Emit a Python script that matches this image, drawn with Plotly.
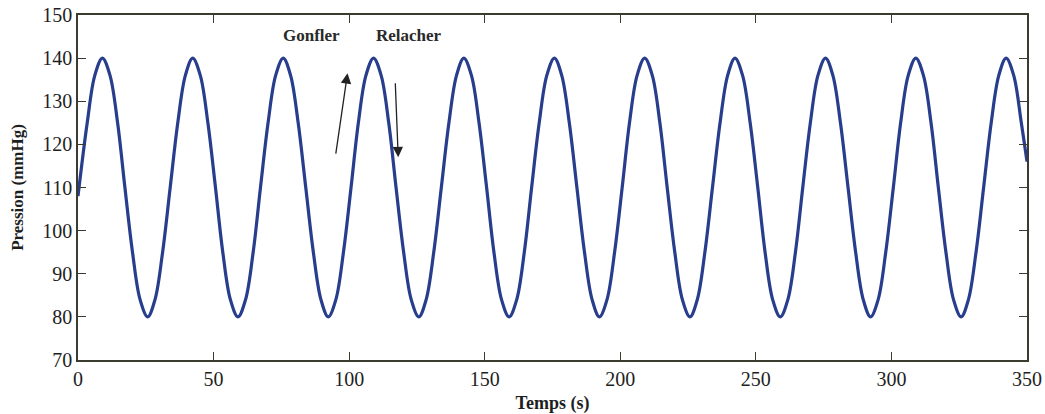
import plotly.graph_objects as go

# Time (s) and pressure (mmHg)
temps = [0.0, 3.4, 6.2,
         9.0, 11.8, 14.6, 17.3, 20.1, 22.9, 25.7, 28.4, 31.2, 34.0, 36.8, 39.6,
         42.3, 45.1, 47.9, 50.7, 53.4, 56.2, 59.0, 61.8, 64.6, 67.3, 70.1, 72.9,
         75.7, 78.4, 81.2, 84.0, 86.8, 89.6, 92.3, 95.1, 97.9, 100.7, 103.4, 106.2,
         109.0, 111.8, 114.6, 117.3, 120.1, 122.9, 125.7, 128.4, 131.2, 134.0, 136.8, 139.6,
         142.3, 145.1, 147.9, 150.7, 153.4, 156.2, 159.0, 161.8, 164.6, 167.3, 170.1, 172.9,
         175.7, 178.4, 181.2, 184.0, 186.8, 189.6, 192.3, 195.1, 197.9, 200.7, 203.4, 206.2,
         209.0, 211.8, 214.6, 217.3, 220.1, 222.9, 225.7, 228.4, 231.2, 234.0, 236.8, 239.6,
         242.3, 245.1, 247.9, 250.7, 253.4, 256.2, 259.0, 261.8, 264.6, 267.3, 270.1, 272.9,
         275.7, 278.4, 281.2, 284.0, 286.8, 289.6, 292.3, 295.1, 297.9, 300.7, 303.4, 306.2,
         309.0, 311.8, 314.6, 317.3, 320.1, 322.9, 325.7, 328.4, 331.2, 334.0, 336.8, 339.6,
         342.3, 345.1, 347.9, 350.0]
pression = [108, 125, 136,
            140, 136, 125, 110, 95, 84, 80, 84, 95, 110, 125, 136,
            140, 136, 125, 110, 95, 84, 80, 84, 95, 110, 125, 136,
            140, 136, 125, 110, 95, 84, 80, 84, 95, 110, 125, 136,
            140, 136, 125, 110, 95, 84, 80, 84, 95, 110, 125, 136,
            140, 136, 125, 110, 95, 84, 80, 84, 95, 110, 125, 136,
            140, 136, 125, 110, 95, 84, 80, 84, 95, 110, 125, 136,
            140, 136, 125, 110, 95, 84, 80, 84, 95, 110, 125, 136,
            140, 136, 125, 110, 95, 84, 80, 84, 95, 110, 125, 136,
            140, 136, 125, 110, 95, 84, 80, 84, 95, 110, 125, 136,
            140, 136, 125, 110, 95, 84, 80, 84, 95, 110, 125, 136,
            140, 136, 125, 116]

x_ticks = [0, 50, 100, 150, 200, 250, 300, 350]
y_ticks = [70, 80, 90, 100, 110, 120, 130, 140, 150]

labels = ["Gonfler", "Relacher"]
label_x = [86, 122]
label_y = [145.2, 145.2]
arrow_tail_x = [95, 117]
arrow_tail_y = [117.5, 134.5]
arrow_head_x = [99.4, 118.1]
arrow_head_y = [136.5, 117.0]

FONT = "Liberation Serif"
AX = "#3b3b30"
TXT = "#1e1e1e"

fig = go.Figure()
fig.add_trace(go.Scatter(
    x=temps, y=pression, mode="lines",
    line=dict(color="#283d8c", width=3.2, shape="spline", smoothing=1.0),
    showlegend=False,
))

for t, xx, yy in zip(labels, label_x, label_y):
    fig.add_annotation(x=xx, y=yy, text="<b>" + t + "</b>", showarrow=False,
                       font=dict(family=FONT, size=17, color="#2a2a2a"))

for tx, ty, hx, hy in zip(arrow_tail_x, arrow_tail_y, arrow_head_x, arrow_head_y):
    fig.add_annotation(x=hx, y=hy, ax=tx, ay=ty, xref="x", yref="y",
                       axref="x", ayref="y", text="", showarrow=True,
                       arrowhead=2, arrowsize=1.6, arrowwidth=1.3,
                       arrowcolor="#222")

axis_common = dict(
    showline=True, linecolor=AX, linewidth=1.5, mirror="ticks",
    ticks="inside", ticklen=8, tickwidth=1.3, tickcolor=AX,
    showgrid=False, zeroline=False, automargin=False,
    tickfont=dict(family=FONT, size=20, color=TXT),
)

fig.update_xaxes(range=[0, 350], tickvals=x_ticks,
                 title=dict(text="<b>Temps (s)</b>", font=dict(family=FONT, size=18, color=TXT),
                            standoff=8),
                 **axis_common)
fig.update_yaxes(range=[70, 150], tickvals=y_ticks,
                 title=dict(text="<b>Pression (mmHg)</b>", font=dict(family=FONT, size=17, color=TXT),
                            standoff=14),
                 **axis_common)

fig.update_layout(
    width=1045, height=414,
    margin=dict(l=78, r=18, t=15, b=54),
    paper_bgcolor="white", plot_bgcolor="white",
)

fig.write_html("out.html")
